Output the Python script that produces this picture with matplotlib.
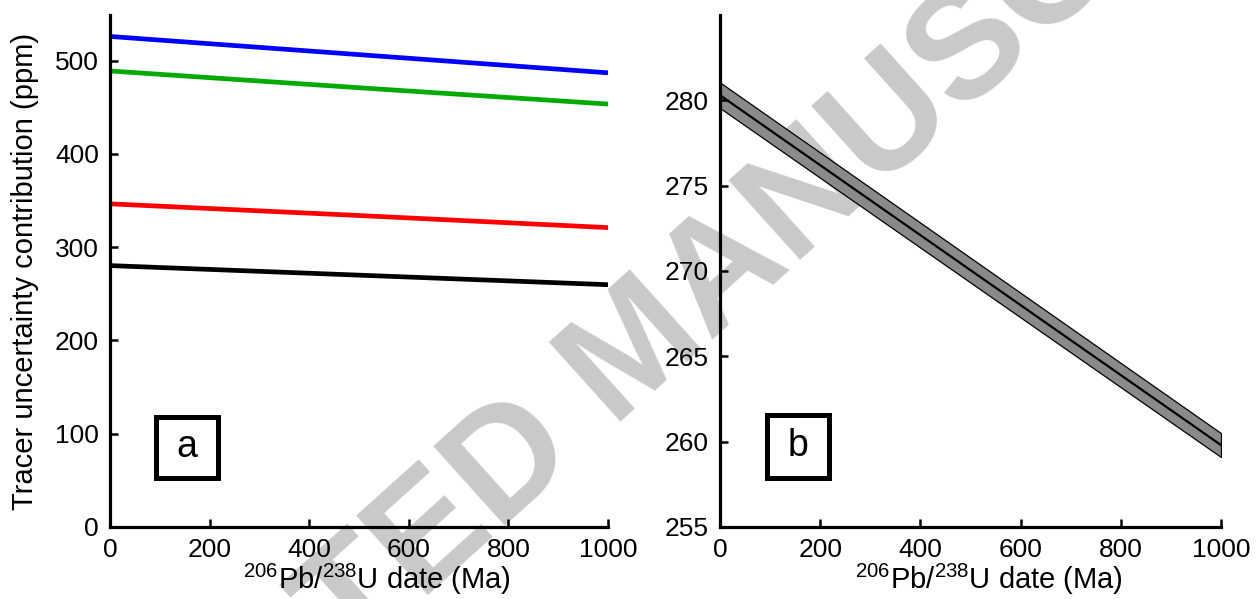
import matplotlib
matplotlib.use("Agg")
import matplotlib.pyplot as plt
from matplotlib.patches import Rectangle
import numpy as np

plt.rcParams['font.family'] = ['Liberation Sans', 'DejaVu Sans']
plt.rcParams['mathtext.fontset'] = 'custom'
plt.rcParams['mathtext.rm'] = 'Liberation Sans'
plt.rcParams['mathtext.it'] = 'Liberation Sans'

# ---- data ----
date_a = [0, 500, 1000]
blue_a = [526.0, 506.5, 487.0]
green_a = [489.0, 471.0, 453.5]
red_a = [346.5, 334.0, 321.0]

date_b = [0, 200, 400, 600, 800, 1000]
black_b = [280.3, 276.2, 272.1, 268.0, 263.9, 259.8]
band_half = [0.75, 0.74, 0.73, 0.72, 0.71, 0.70]

x_ticks = [0, 200, 400, 600, 800, 1000]
y_ticks_a = [0, 100, 200, 300, 400, 500]
y_ticks_b = [255, 260, 265, 270, 275, 280]

xlabel = r'$^{206}\mathrm{Pb}/^{238}\mathrm{U}$ date (Ma)'
ylabel = 'Tracer uncertainty contribution (ppm)'

FS = 19
LFS = 21

W, H = 1257, 599
fig = plt.figure(figsize=(W / 100, H / 100), dpi=100)

# watermark
fig.text(0.507, 0.412, 'ACCEPTED MANUSCRIPT', rotation=42, fontsize=112,
         fontweight='bold', color='#c8c9cb', ha='center', va='center',
         rotation_mode='anchor', zorder=-5)

axa = fig.add_axes([110 / W, 1 - 527 / H, 498 / W, 512 / H])
axb = fig.add_axes([720 / W, 1 - 527 / H, 501 / W, 512 / H])

for ax in (axa, axb):
    ax.set_facecolor('none')
    for s in ('top', 'right'):
        ax.spines[s].set_visible(False)
    for s in ('left', 'bottom'):
        ax.spines[s].set_linewidth(2.3)
    ax.tick_params(direction='in', length=6, width=1.8, labelsize=FS,
                   pad=8)
    ax.set_xlim(0, 1000)
    ax.set_xticks(x_ticks)
    ax.set_xlabel(xlabel, fontsize=LFS)
    ax.xaxis.set_label_coords(0.536, -0.068)

# panel a
lwl = 3.4
axa.plot(date_a, blue_a, color='#0000ff', lw=lwl, solid_capstyle='butt')
axa.plot(date_a, green_a, color='#00aa00', lw=lwl, solid_capstyle='butt')
axa.plot(date_a, red_a, color='#ff0000', lw=lwl, solid_capstyle='butt')
axa.plot(date_b, black_b, color='black', lw=lwl, solid_capstyle='butt')
axa.set_ylim(0, 549)
axa.set_yticks(y_ticks_a)
axa.set_ylabel(ylabel, fontsize=LFS)
axa.yaxis.set_label_coords(-0.142, 0.5)

# panel b
yb = np.array(black_b)
hb = np.array(band_half)
axb.fill_between(date_b, yb - hb, yb + hb, facecolor='#8a8a8a',
                 edgecolor='black', lw=0.9)
axb.plot(date_b, black_b, color='black', lw=1.6)
axb.set_ylim(255, 285)
axb.set_yticks(y_ticks_b)

# label boxes
for ax, lab, (x0, y0, w, h) in ((axa, 'a', (0.0914, 0.0957, 0.1245, 0.120)),
                                (axb, 'b', (0.0948, 0.0957, 0.1228, 0.124))):
    ax.add_patch(Rectangle((x0, y0), w, h, transform=ax.transAxes,
                           facecolor='white', edgecolor='black', lw=3.6,
                           clip_on=False, zorder=5))
    ax.text(x0 + w / 2, y0 + h / 2, lab, transform=ax.transAxes,
            fontsize=27, ha='center', va='center', zorder=6)

fig.savefig('out.png', dpi=100)
